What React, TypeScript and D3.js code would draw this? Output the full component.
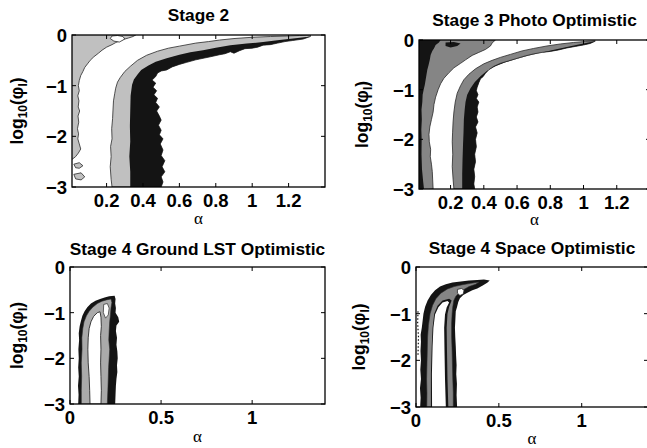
import React from 'react';
import * as d3 from 'd3';

type Pt = [number, number];

// ---------- tick labels / titles ----------
const xTicksFine = [0.2, 0.4, 0.6, 0.8, 1, 1.2];
const xTicksCoarse = [0, 0.5, 1];
const yTicks = [0, -1, -2, -3];
const titles = ['Stage 2', 'Stage 3 Photo Optimistic', 'Stage 4 Ground LST Optimistic', 'Stage 4 Space Optimistic'];

// ---------- Panel 1 : Stage 2  (points are [alpha, log10(phi)]) ----------
const p1StripEdge: Pt[] = [
  [0.36, 0], [0.345, -0.03], [0.32, -0.06], [0.3, -0.08], [0.28, -0.1], [0.25, -0.15], [0.23, -0.19], [0.2, -0.24],
  [0.175, -0.3], [0.155, -0.36], [0.13, -0.43], [0.11, -0.5], [0.095, -0.57], [0.08, -0.64], [0.07, -0.72],
  [0.058, -0.8], [0.05, -0.9], [0.045, -1.0], [0.05, -1.1], [0.042, -1.2], [0.048, -1.3], [0.044, -1.42],
  [0.052, -1.5], [0.043, -1.6], [0.047, -1.72], [0.04, -1.85], [0.046, -1.95], [0.042, -2.05], [0.05, -2.15],
  [0.058, -2.25], [0.045, -2.33], [0.03, -2.4], [0.012, -2.45],
];
const p1Bubble: Pt[] = [[0.23, -0.02], [0.26, -0.01], [0.29, -0.03], [0.3, -0.08], [0.27, -0.14], [0.24, -0.12], [0.22, -0.07]];
const p1SpeckA: Pt[] = [[0.02, -2.55], [0.05, -2.52], [0.07, -2.58], [0.05, -2.63], [0.03, -2.62]];
const p1SpeckB: Pt[] = [[0.02, -2.75], [0.06, -2.72], [0.08, -2.8], [0.06, -2.86], [0.03, -2.84]];
const p1BandOuter: Pt[] = [
  [0.23, -3], [0.225, -2.85], [0.22, -2.6], [0.225, -2.4], [0.222, -2.2], [0.23, -2.05], [0.228, -1.85],
  [0.233, -1.65], [0.235, -1.5], [0.238, -1.3], [0.245, -1.15], [0.25, -1.05], [0.26, -0.93], [0.275, -0.84],
  [0.3, -0.72], [0.33, -0.62], [0.37, -0.5], [0.42, -0.4], [0.48, -0.32], [0.54, -0.26], [0.6, -0.22],
  [0.69, -0.16], [0.76, -0.13], [0.82, -0.1], [0.9, -0.07], [1.0, -0.045], [1.1, -0.03], [1.19, -0.02],
  [1.26, -0.01], [1.32, 0],
];
const p1BlackInner: Pt[] = [
  [0.33, -3], [0.33, -2.7], [0.325, -2.4], [0.33, -2.1], [0.328, -1.8], [0.33, -1.5], [0.332, -1.2],
  [0.34, -0.98], [0.35, -0.88], [0.37, -0.78], [0.39, -0.69], [0.43, -0.6], [0.47, -0.53], [0.53, -0.46],
  [0.6, -0.39], [0.66, -0.34], [0.73, -0.3], [0.8, -0.25], [0.88, -0.2], [0.97, -0.17], [1.06, -0.14],
  [1.15, -0.1], [1.25, -0.06], [1.32, -0.03],
];
const p1BlackOuter: Pt[] = [
  [1.32, -0.03], [1.28, -0.08], [1.22, -0.11], [1.18, -0.13], [1.14, -0.16], [1.1, -0.19], [1.06, -0.2],
  [1.03, -0.24], [1.0, -0.26], [0.96, -0.27], [0.93, -0.31], [0.9, -0.36], [0.88, -0.33], [0.85, -0.37],
  [0.82, -0.39], [0.77, -0.43], [0.73, -0.46], [0.69, -0.49], [0.64, -0.54], [0.6, -0.58], [0.56, -0.63],
  [0.53, -0.69], [0.5, -0.71], [0.48, -0.75], [0.47, -0.82], [0.45, -0.89], [0.47, -0.95], [0.455, -1.03],
  [0.475, -1.1], [0.46, -1.18], [0.48, -1.25], [0.47, -1.33], [0.49, -1.42], [0.475, -1.5], [0.49, -1.6],
  [0.5, -1.68], [0.485, -1.78], [0.5, -1.88], [0.49, -1.97], [0.51, -2.05], [0.495, -2.15], [0.51, -2.27],
  [0.5, -2.38], [0.52, -2.48], [0.505, -2.6], [0.52, -2.7], [0.5, -2.8], [0.51, -2.9], [0.5, -3],
];

// ---------- Panel 2 : Stage 3 Photo Optimistic ----------
const p2GrayEdge: Pt[] = [
  [0.47, 0], [0.45, -0.06], [0.44, -0.12], [0.41, -0.19], [0.37, -0.25], [0.33, -0.31], [0.29, -0.4],
  [0.26, -0.47], [0.22, -0.56], [0.19, -0.66], [0.16, -0.77], [0.14, -0.88], [0.125, -1.0], [0.11, -1.15],
  [0.1, -1.3], [0.095, -1.45], [0.085, -1.6], [0.075, -1.75], [0.07, -1.9], [0.072, -2.05], [0.08, -2.2],
  [0.078, -2.35], [0.085, -2.5], [0.09, -2.65], [0.092, -2.8], [0.095, -3],
];
const p2BlackEdge: Pt[] = [
  [0.14, 0], [0.13, -0.05], [0.11, -0.1], [0.1, -0.17], [0.09, -0.22], [0.08, -0.3], [0.075, -0.4],
  [0.068, -0.5], [0.06, -0.6], [0.055, -0.7], [0.05, -0.8], [0.045, -0.9], [0.038, -1.0], [0.032, -1.1],
  [0.03, -1.25], [0.025, -1.4], [0.027, -1.6], [0.024, -1.8], [0.026, -2.0], [0.025, -2.3], [0.028, -2.6],
  [0.035, -2.85], [0.04, -3],
];
const p2BlobA: Pt[] = [[0.17, -0.05], [0.22, -0.04], [0.26, -0.07], [0.24, -0.12], [0.2, -0.15], [0.17, -0.12]];
const p2BandOuter: Pt[] = [
  [0.22, -3], [0.215, -2.8], [0.21, -2.55], [0.213, -2.3], [0.21, -2.05], [0.212, -1.87], [0.215, -1.65],
  [0.22, -1.45], [0.228, -1.25], [0.24, -1.07], [0.26, -0.92], [0.28, -0.8], [0.31, -0.69], [0.35, -0.58],
  [0.4, -0.48], [0.45, -0.41], [0.5, -0.35], [0.56, -0.29], [0.63, -0.22], [0.7, -0.17], [0.78, -0.12],
  [0.86, -0.08], [0.94, -0.05], [1.01, -0.03], [1.07, -0.015],
];
const p2BlackInner: Pt[] = [
  [0.27, -3], [0.27, -2.7], [0.272, -2.4], [0.275, -2.1], [0.278, -1.85], [0.28, -1.6], [0.285, -1.4],
  [0.29, -1.25], [0.3, -1.1], [0.32, -0.97], [0.345, -0.85], [0.38, -0.73], [0.42, -0.62], [0.47, -0.53],
  [0.53, -0.45], [0.6, -0.38], [0.67, -0.31], [0.75, -0.25], [0.83, -0.19], [0.9, -0.14], [0.97, -0.09],
  [1.03, -0.05], [1.07, -0.025],
];
const p2BlackOuter: Pt[] = [
  [1.07, -0.025], [1.04, -0.07], [1.0, -0.1], [0.95, -0.13], [0.9, -0.16], [0.85, -0.2], [0.8, -0.23],
  [0.75, -0.25], [0.7, -0.28], [0.65, -0.32], [0.6, -0.37], [0.55, -0.42], [0.5, -0.47], [0.46, -0.53],
  [0.43, -0.6], [0.41, -0.67], [0.395, -0.74], [0.38, -0.78], [0.37, -0.86], [0.36, -0.95], [0.355, -1.02],
  [0.365, -1.1], [0.355, -1.18], [0.37, -1.25], [0.36, -1.35], [0.365, -1.45], [0.355, -1.55], [0.365, -1.65],
  [0.35, -1.75], [0.36, -1.87], [0.35, -2.0], [0.355, -2.15], [0.345, -2.3], [0.35, -2.45], [0.34, -2.6],
  [0.345, -2.75], [0.34, -2.9], [0.345, -3],
];

// ---------- Panel 3 : Stage 4 Ground LST Optimistic ----------
const p3Outer: Pt[] = [
  [0.045, -3], [0.047, -2.8], [0.044, -2.6], [0.048, -2.4], [0.045, -2.2], [0.048, -2.0], [0.046, -1.8],
  [0.05, -1.6], [0.048, -1.45], [0.053, -1.3], [0.06, -1.18], [0.068, -1.07], [0.08, -0.97], [0.095, -0.88],
  [0.115, -0.8], [0.14, -0.74], [0.165, -0.7], [0.19, -0.67], [0.215, -0.64], [0.245, -0.63], [0.25, -0.7],
  [0.248, -0.8], [0.252, -0.9], [0.25, -1.0], [0.265, -1.1], [0.27, -1.2], [0.255, -1.28], [0.252, -1.4],
  [0.258, -1.55], [0.255, -1.7], [0.26, -1.85], [0.262, -2.0], [0.258, -2.15], [0.26, -2.3], [0.255, -2.45],
  [0.252, -2.6], [0.25, -2.8], [0.248, -3],
];
const p3Gray: Pt[] = [
  [0.062, -3], [0.062, -2.7], [0.064, -2.4], [0.062, -2.1], [0.066, -1.8], [0.065, -1.55], [0.07, -1.35],
  [0.077, -1.2], [0.09, -1.07], [0.105, -0.97], [0.125, -0.88], [0.15, -0.8], [0.175, -0.75], [0.2, -0.72],
  [0.225, -0.7], [0.23, -0.78], [0.225, -0.9], [0.222, -1.05], [0.218, -1.2], [0.215, -1.4], [0.213, -1.6],
  [0.218, -1.8], [0.215, -2.0], [0.212, -2.2], [0.21, -2.45], [0.208, -2.7], [0.205, -3],
];
const p3White: Pt[] = [
  [0.11, -3], [0.108, -2.7], [0.105, -2.4], [0.1, -2.1], [0.098, -1.8], [0.1, -1.55], [0.105, -1.35],
  [0.115, -1.2], [0.13, -1.08], [0.15, -1.0], [0.165, -0.98], [0.17, -1.1], [0.172, -1.3], [0.168, -1.5],
  [0.17, -1.8], [0.168, -2.1], [0.17, -2.4], [0.172, -2.7], [0.17, -3],
];
const p3Bubble: Pt[] = [[0.185, -0.82], [0.205, -0.8], [0.215, -0.9], [0.21, -1.05], [0.195, -1.12], [0.183, -1.0]];

// ---------- Panel 4 : Stage 4 Space Optimistic ----------
const p4Outer: Pt[] = [
  [0.025, -3], [0.028, -2.8], [0.024, -2.6], [0.03, -2.4], [0.026, -2.2], [0.03, -2.0], [0.027, -1.8],
  [0.03, -1.6], [0.028, -1.45], [0.035, -1.3], [0.04, -1.15], [0.045, -1.0], [0.055, -0.85], [0.07, -0.72],
  [0.09, -0.6], [0.115, -0.5], [0.145, -0.42], [0.18, -0.37], [0.22, -0.33], [0.27, -0.31], [0.32, -0.29],
  [0.37, -0.28], [0.41, -0.27], [0.445, -0.29], [0.43, -0.34], [0.4, -0.4], [0.37, -0.46], [0.34, -0.5],
  [0.31, -0.55], [0.285, -0.6], [0.265, -0.67], [0.255, -0.75], [0.248, -0.85], [0.24, -0.95], [0.238, -1.1],
  [0.235, -1.3], [0.237, -1.5], [0.24, -1.7], [0.242, -1.9], [0.245, -2.1], [0.243, -2.3], [0.247, -2.5],
  [0.245, -2.75], [0.248, -3],
];
const p4Gray: Pt[] = [
  [0.065, -3], [0.066, -2.7], [0.064, -2.4], [0.066, -2.1], [0.068, -1.8], [0.07, -1.5], [0.075, -1.25],
  [0.085, -1.0], [0.1, -0.82], [0.12, -0.68], [0.15, -0.56], [0.19, -0.47], [0.23, -0.42], [0.28, -0.38],
  [0.33, -0.35], [0.38, -0.32], [0.36, -0.37], [0.32, -0.42], [0.29, -0.48], [0.26, -0.55], [0.24, -0.63],
  [0.228, -0.72], [0.222, -0.85], [0.218, -1.0], [0.215, -1.2], [0.215, -1.5], [0.218, -1.8], [0.22, -2.1],
  [0.222, -2.4], [0.225, -2.7], [0.225, -3],
];
const p4InnerBlack: Pt[] = [
  [0.09, -3], [0.09, -2.3], [0.095, -1.7], [0.1, -1.3], [0.11, -1.0], [0.13, -0.83], [0.16, -0.72],
  [0.2, -0.68], [0.215, -0.72], [0.2, -0.85], [0.19, -1.0], [0.185, -1.3], [0.187, -1.8], [0.19, -2.4], [0.195, -3],
];
const p4White: Pt[] = [
  [0.097, -3], [0.096, -2.3], [0.1, -1.7], [0.105, -1.3], [0.115, -1.02], [0.135, -0.86], [0.16, -0.76],
  [0.19, -0.73], [0.2, -0.76], [0.185, -0.87], [0.175, -1.02], [0.17, -1.3], [0.172, -1.8], [0.175, -2.4], [0.18, -3],
];
const p4Bubble: Pt[] = [[0.25, -0.48], [0.275, -0.46], [0.29, -0.5], [0.285, -0.58], [0.265, -0.61], [0.25, -0.56]];
const p4Dots: Pt[] = [[0.012, -0.95], [0.01, -1.2], [0.015, -1.5], [0.012, -1.9]];

// ---------- styling ----------
const FONT = "'Liberation Sans', Arial, Helvetica, sans-serif";
const BLACK = '#141414';
const LIGHT = '#c0c0c0';
const MID = '#858585';
const P3GRAY = '#aaaaaa';
const EDGE = '#2a2a2a';
const TICK_FS = 18.5;
const TITLE_FS = 17.3;

interface Layer { pts: Pt[]; fill: string; stroke?: string; sw?: number; closed?: boolean; dash?: string }
interface PanelCfg {
  id: number; x0: number; x1: number; y0: number; y1: number;
  xDomain: [number, number]; xTicks: number[]; title: string; titleY: number; xLabelY: number; yLabelX: number;
  build: (xmin: number) => Layer[];
}

const edgePoly = (xmin: number, edge: Pt[]): Pt[] => [[xmin - 0.05, edge[0][1] + 0.05], ...edge, [xmin - 0.05, edge[edge.length - 1][1] - 0.05]];

const panels: PanelCfg[] = [
  {
    id: 1, x0: 72, x1: 325, y0: 35, y1: 187, xDomain: [0.01, 1.4], xTicks: xTicksFine, title: titles[0],
    titleY: 21, xLabelY: 219, yLabelX: 17,
    build: (xmin) => [
      { pts: edgePoly(xmin, p1StripEdge), fill: LIGHT, stroke: EDGE },
      { pts: p1Bubble, fill: '#fff', stroke: EDGE },
      { pts: p1SpeckA, fill: LIGHT, stroke: EDGE },
      { pts: p1SpeckB, fill: LIGHT, stroke: EDGE },
      { pts: [...p1BandOuter, ...p1BlackOuter], fill: LIGHT, stroke: EDGE },
      { pts: [...p1BlackInner, ...p1BlackOuter], fill: BLACK },
    ],
  },
  {
    id: 2, x0: 419, x1: 650, y0: 40, y1: 189, xDomain: [0.01, 1.4], xTicks: xTicksFine, title: titles[1],
    titleY: 26, xLabelY: 220, yLabelX: 362,
    build: (xmin) => [
      { pts: edgePoly(xmin, p2GrayEdge), fill: MID, stroke: EDGE },
      { pts: edgePoly(xmin, p2BlackEdge), fill: BLACK },
      { pts: p2BlobA, fill: BLACK },
      { pts: [...p2BandOuter, ...p2BlackOuter], fill: MID, stroke: EDGE },
      { pts: [...p2BlackInner, ...p2BlackOuter], fill: BLACK },
    ],
  },
  {
    id: 3, x0: 70, x1: 325, y0: 267, y1: 404, xDomain: [0, 1.4], xTicks: xTicksCoarse, title: titles[2],
    titleY: 255, xLabelY: 437, yLabelX: 17,
    build: () => [
      { pts: p3Outer, fill: BLACK },
      { pts: p3Gray, fill: P3GRAY, stroke: EDGE, sw: 0.6 },
      { pts: p3White, fill: '#fff', stroke: EDGE, sw: 0.9 },
      { pts: p3Bubble, fill: '#fff', stroke: EDGE, sw: 0.7 },
    ],
  },
  {
    id: 4, x0: 416, x1: 648, y0: 267, y1: 407, xDomain: [0, 1.4], xTicks: xTicksCoarse, title: titles[3],
    titleY: 254, xLabelY: 439, yLabelX: 359,
    build: () => [
      { pts: p4Outer, fill: BLACK },
      { pts: p4Gray, fill: MID, stroke: EDGE, sw: 0.6 },
      { pts: p4InnerBlack, fill: BLACK },
      { pts: p4White, fill: '#fff' },
      { pts: p4Bubble, fill: '#fff', stroke: EDGE, sw: 0.8 },
      { pts: p4Dots, fill: 'none', stroke: BLACK, sw: 1.2, closed: false, dash: '1.5 2' },
    ],
  },
];

const fmtX = (t: number) => String(t);
const fmtY = (t: number) => (t === 0 ? '0' : '\u2212' + Math.abs(t));

function Panel({ p }: { p: PanelCfg }) {
  const x = d3.scaleLinear().domain(p.xDomain).range([p.x0, p.x1]);
  const y = d3.scaleLinear().domain([-3, 0]).range([p.y1, p.y0]);
  const line = d3.line<Pt>().x((d) => x(d[0])).y((d) => y(d[1]));
  const layers = p.build(p.xDomain[0]);
  const clip = `clip-${p.id}`;
  const cxFull = (p.x0 + p.x1) / 2;
  const cy = (p.y0 + p.y1) / 2;
  const TL = 4;
  return (
    <g>
      <defs>
        <clipPath id={clip}>
          <rect x={p.x0} y={p.y0} width={p.x1 - p.x0} height={p.y1 - p.y0} />
        </clipPath>
      </defs>
      <rect x={p.x0} y={p.y0} width={p.x1 - p.x0} height={p.y1 - p.y0} fill="#fff" />
      <g clipPath={`url(#${clip})`}>
        {layers.map((l, i) => (
          <path
            key={i}
            d={(line(l.pts) || '') + (l.closed === false ? '' : 'Z')}
            fill={l.fill}
            stroke={l.stroke || 'none'}
            strokeWidth={l.sw ?? 0.8}
            strokeDasharray={l.dash}
            strokeLinejoin="round"
          />
        ))}
      </g>
      {p.xTicks.map((t) => (
        <g key={'x' + t}>
          <line x1={x(t)} x2={x(t)} y1={p.y1} y2={p.y1 - TL} stroke="#000" strokeWidth={1} />
          <line x1={x(t)} x2={x(t)} y1={p.y0} y2={p.y0 + TL} stroke="#000" strokeWidth={1} />
          <text x={x(t)} y={p.y1 + 19.5} textAnchor="middle" fontFamily={FONT} fontWeight="bold" fontSize={TICK_FS}>
            {fmtX(t)}
          </text>
        </g>
      ))}
      {yTicks.map((t) => (
        <g key={'y' + t}>
          <line x1={p.x0} x2={p.x0 + TL} y1={y(t)} y2={y(t)} stroke="#000" strokeWidth={1} />
          <line x1={p.x1} x2={p.x1 - TL} y1={y(t)} y2={y(t)} stroke="#000" strokeWidth={1} />
          <text x={p.x0 - 5} y={y(t) + 7} textAnchor="end" fontFamily={FONT} fontWeight="bold" fontSize={TICK_FS}>
            {fmtY(t)}
          </text>
        </g>
      ))}
      <rect x={p.x0} y={p.y0} width={p.x1 - p.x0} height={p.y1 - p.y0} fill="none" stroke="#000" strokeWidth={1.3} />
      <text x={cxFull} y={p.titleY} textAnchor="middle" fontFamily={FONT} fontWeight="bold" fontSize={TITLE_FS}>
        {p.title}
      </text>
      <text x={cxFull} y={p.xLabelY + 5} textAnchor="middle" fontFamily="'Liberation Serif', 'DejaVu Serif', serif" fontSize={17}>
        α
      </text>
      <text
        transform={`translate(${p.yLabelX + 6},${cy}) rotate(-90)`}
        textAnchor="middle"
        fontFamily={FONT}
        fontWeight="bold"
        fontSize={17.5}
      >
        log<tspan fontSize={12} dy={4}>10</tspan>
        <tspan dy={-4}>(φ</tspan>
        <tspan fontSize={12} dy={4}>l</tspan>
        <tspan dy={-4}>)</tspan>
      </text>
    </g>
  );
}

export default function App() {
  return (
    <svg width={647} height={448} style={{ position: 'absolute', left: 0, top: 0, background: '#fff' }}>
      <rect x={0} y={0} width={647} height={448} fill="#fff" />
      {panels.map((p) => (
        <Panel key={p.id} p={p} />
      ))}
    </svg>
  );
}
